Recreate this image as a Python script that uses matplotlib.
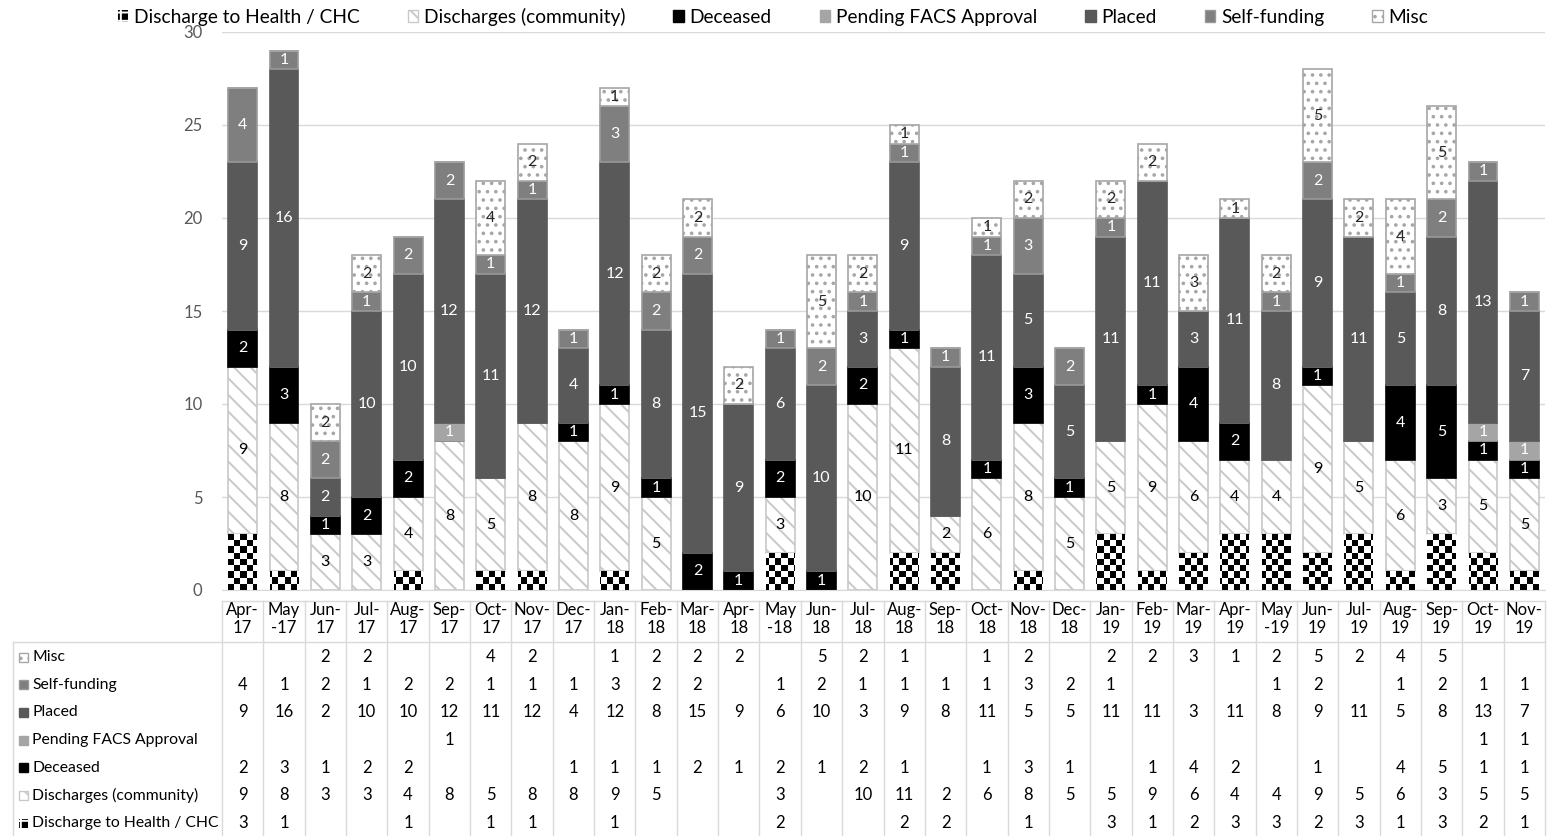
import numpy as np
import matplotlib
matplotlib.use('Agg')
import matplotlib.pyplot as plt
from matplotlib.patches import Patch, Rectangle
from matplotlib.lines import Line2D
from matplotlib import transforms

plt.rcParams['font.family'] = ['Lato', 'DejaVu Sans']
plt.rcParams['hatch.linewidth'] = 1.4

# data
months = ['Apr-17', 'May-17', 'Jun-17', 'Jul-17', 'Aug-17', 'Sep-17', 'Oct-17', 'Nov-17',
          'Dec-17', 'Jan-18', 'Feb-18', 'Mar-18', 'Apr-18', 'May-18', 'Jun-18', 'Jul-18',
          'Aug-18', 'Sep-18', 'Oct-18', 'Nov-18', 'Dec-18', 'Jan-19', 'Feb-19', 'Mar-19',
          'Apr-19', 'May-19', 'Jun-19', 'Jul-19', 'Aug-19', 'Sep-19', 'Oct-19', 'Nov-19']
header_labels = ['Apr-\n17', 'May\n-17', 'Jun-\n17', 'Jul-\n17', 'Aug-\n17', 'Sep-\n17', 'Oct-\n17', 'Nov-\n17',
                 'Dec-\n17', 'Jan-\n18', 'Feb-\n18', 'Mar-\n18', 'Apr-\n18', 'May\n-18', 'Jun-\n18', 'Jul-\n18',
                 'Aug-\n18', 'Sep-\n18', 'Oct-\n18', 'Nov-\n18', 'Dec-\n18', 'Jan-\n19', 'Feb-\n19', 'Mar-\n19',
                 'Apr-\n19', 'May\n-19', 'Jun-\n19', 'Jul-\n19', 'Aug-\n19', 'Sep-\n19', 'Oct-\n19', 'Nov-\n19']

health_chc = [3, 1, 0, 0, 1, 0, 1, 1, 0, 1, 0, 0, 0, 2, 0, 0,
              2, 2, 0, 1, 0, 3, 1, 2, 3, 3, 2, 3, 1, 3, 2, 1]
community = [9, 8, 3, 3, 4, 8, 5, 8, 8, 9, 5, 0, 0, 3, 0, 10,
             11, 2, 6, 8, 5, 5, 9, 6, 4, 4, 9, 5, 6, 3, 5, 5]
deceased = [2, 3, 1, 2, 2, 0, 0, 0, 1, 1, 1, 2, 1, 2, 1, 2,
            1, 0, 1, 3, 1, 0, 1, 4, 2, 0, 1, 0, 4, 5, 1, 1]
pending = [0, 0, 0, 0, 0, 1, 0, 0, 0, 0, 0, 0, 0, 0, 0, 0,
           0, 0, 0, 0, 0, 0, 0, 0, 0, 0, 0, 0, 0, 0, 1, 1]
placed = [9, 16, 2, 10, 10, 12, 11, 12, 4, 12, 8, 15, 9, 6, 10, 3,
          9, 8, 11, 5, 5, 11, 11, 3, 11, 8, 9, 11, 5, 8, 13, 7]
self_funding = [4, 1, 2, 1, 2, 2, 1, 1, 1, 3, 2, 2, 0, 1, 2, 1,
                1, 1, 1, 3, 2, 1, 0, 0, 0, 1, 2, 0, 1, 2, 1, 1]
misc = [0, 0, 2, 2, 0, 0, 4, 2, 0, 1, 2, 2, 2, 0, 5, 2,
        1, 0, 1, 2, 0, 2, 2, 3, 1, 2, 5, 2, 4, 5, 0, 0]

series_names = ['Discharge to Health / CHC', 'Discharges (community)', 'Deceased',
                'Pending FACS Approval', 'Placed', 'Self-funding', 'Misc']
series_values = [health_chc, community, deceased, pending, placed, self_funding, misc]

# look of each series: face, edge, hatch, label colour
styles = {
    'Discharge to Health / CHC': dict(face='white', edge='none', hatch=None, txt=None),
    'Discharges (community)': dict(face='white', edge='#c8c8c8', hatch='\\\\', txt='black'),
    'Deceased': dict(face='black', edge='black', hatch=None, txt='white'),
    'Pending FACS Approval': dict(face='#a5a5a5', edge='#a5a5a5', hatch=None, txt='white'),
    'Placed': dict(face='#595959', edge='#595959', hatch=None, txt='white'),
    'Self-funding': dict(face='#7f7f7f', edge='#999999', hatch=None, txt='white'),
    'Misc': dict(face='white', edge='#a6a6a6', hatch='..', txt='#262626'),
}

W, H = 1548, 836
fig = plt.figure(figsize=(W / 100, H / 100), dpi=100)
ax = fig.add_axes([222 / W, 1 - 590 / H, (1545 - 222) / W, (590 - 32) / H])

x = np.arange(len(months))
xlim = (-0.5, len(months) - 0.5)
ylim = (0, 30)

# checkerboard used for the "Discharge to Health" segments
ax_w_px = (1545 - 222)
ax_h_px = (590 - 32)
board = np.indices((int(round(ax_h_px / 6.2)), int(round(ax_w_px / 6.2)))).sum(axis=0) % 2

bottom = np.zeros(len(months))
for name, vals in zip(series_names, series_values):
    st = styles[name]
    vals = np.array(vals, dtype=float)
    bars = ax.bar(x, vals, 0.7, bottom=bottom, color=st['face'], edgecolor=st['edge'],
                  hatch=st['hatch'], linewidth=1.2, zorder=2)
    if name == 'Discharge to Health / CHC':
        for rect, v in zip(bars, vals):
            if v > 0:
                im = ax.imshow(board, cmap='gray', vmin=0, vmax=1, extent=(*xlim, *ylim),
                               aspect='auto', interpolation='nearest', zorder=3)
                im.set_clip_path(rect)
    else:
        for xi, b, v in zip(x, bottom, vals):
            if v > 0:
                ax.text(xi, b + v / 2, f'{int(v)}', ha='center', va='center',
                        fontsize=11.5, color=st['txt'], zorder=4)
    bottom += vals

ax.set_xlim(*xlim)
ax.set_ylim(*ylim)
ax.set_yticks(range(0, 31, 5))
ax.set_xticks([])
ax.tick_params(axis='y', length=0, pad=14, labelsize=12, labelcolor='#595959')
ax.yaxis.grid(True, color='#d9d9d9', linewidth=1)
ax.set_axisbelow(True)
for s in ['top', 'right', 'left']:
    ax.spines[s].set_visible(False)
ax.spines['bottom'].set_color('#d9d9d9')


# legend / table icons
def icon(name):
    st = styles[name]
    if name == 'Discharge to Health / CHC':
        return Patch(facecolor='black', edgecolor='white', hatch='++', linewidth=0)
    return Patch(facecolor=st['face'], edgecolor=st['edge'], hatch=st['hatch'], linewidth=1)


fig.legend([icon(n) for n in series_names], series_names, ncol=7, loc='center',
           bbox_to_anchor=(0.4994, 1 - 17 / H), frameon=False, fontsize=13.8,
           handlelength=0.55, handleheight=0.55, handletextpad=0.3, columnspacing=2.5,
           borderaxespad=0, borderpad=0)

# data table below the chart
def yf(p):
    return 1 - p / H


trans = transforms.blended_transform_factory(ax.transData, fig.transFigure)
grid_c = '#d9d9d9'
for i in range(len(months) + 1):
    ax.plot([i - 0.5, i - 0.5], [yf(601), yf(836)], transform=trans, clip_on=False,
            color=grid_c, lw=1)
ax.plot([xlim[0], xlim[1]], [yf(601), yf(601)], transform=trans, clip_on=False, color=grid_c, lw=1)
fig.add_artist(Line2D([13 / W, 1545 / W], [yf(642), yf(642)], color=grid_c, lw=1))
fig.add_artist(Line2D([13 / W, 13 / W], [yf(642), yf(836)], color=grid_c, lw=1))

for i, lab in enumerate(header_labels):
    ax.text(i, yf(619), lab, transform=trans, ha='center', va='center', fontsize=12,
            linespacing=1.2)

row_names = series_names[::-1]
row_values = series_values[::-1]
for k, (name, vals) in enumerate(zip(row_names, row_values)):
    yc = 657 + k * 27.7
    ic = icon(name)
    fig.add_artist(Rectangle((19 / W, yf(yc + 4.5)), 9 / W, 9 / H, transform=fig.transFigure,
                             facecolor=ic.get_facecolor(), edgecolor=ic.get_edgecolor(),
                             hatch=ic.get_hatch(), linewidth=ic.get_linewidth()))
    fig.text(32 / W, yf(yc), name, va='center', ha='left', fontsize=11.3)
    for i, v in enumerate(vals):
        if v:
            ax.text(i, yf(yc), str(v), transform=trans, ha='center', va='center', fontsize=12)

fig.savefig('out.png', dpi=100)
